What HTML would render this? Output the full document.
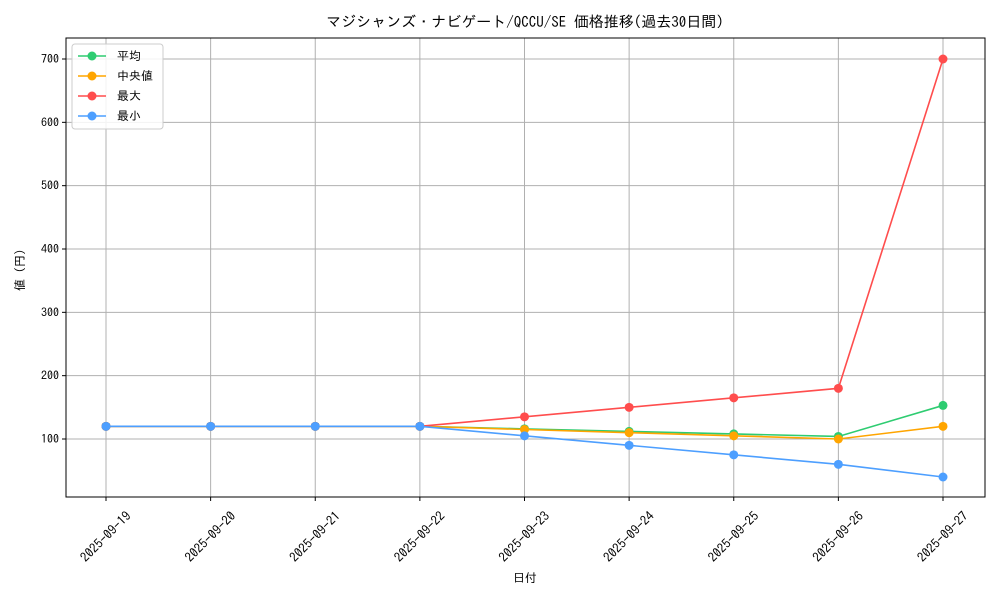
<!DOCTYPE html>
<html><head><meta charset="utf-8">
<style>
body{margin:0;background:#fff;}
svg text{font-family:"IPAGothic","Liberation Sans","Noto Sans CJK JP",sans-serif;fill:#000;}
</style></head>
<body>
<svg id="chart" width="1000" height="600">
<text x="525" y="27" font-size="15" text-anchor="middle">マジシャンズ・ナビゲート/QCCU/SE 価格推移(過去30日間)</text>
<g id="grid"></g>
<g id="axes"></g>
<g id="series"></g>
<rect x="66" y="38" width="919" height="459" fill="none" stroke="#000" stroke-width="1"/>
<text x="525" y="582" font-size="12" text-anchor="middle">日付</text>
<text transform="translate(24,270) rotate(-90)" font-size="12" text-anchor="middle">値 (円)</text>
<g id="legend"></g>
</svg>
<script>
const categories=["2025-09-19","2025-09-20","2025-09-21","2025-09-22","2025-09-23","2025-09-24","2025-09-25","2025-09-26","2025-09-27"];
const meanVals=[120,120,120,120,116,112,108,104,153];
const medianVals=[120,120,120,120,115,110,105,100,120];
const maxVals=[120,120,120,120,135,150,165,180,700];
const minVals=[120,120,120,120,105,90,75,60,40];
const yTicks=[100,200,300,400,500,600,700];
const seriesNames=["平均","中央値","最大","最小"];
const NS="http://www.w3.org/2000/svg";
const L=66,R=985,T=38,B=497;
function xs(i){return 106+i*(943-106)/(categories.length-1);}
function ys(v){return 439-(v-100)*(380/600);}
function mk(tag,attrs,parent){const e=document.createElementNS(NS,tag);for(const k in attrs)e.setAttribute(k,attrs[k]);parent.appendChild(e);return e;}
const grid=document.getElementById('grid'),axes=document.getElementById('axes'),ser=document.getElementById('series'),leg=document.getElementById('legend');
categories.forEach((c,i)=>{
  const x=xs(i);
  const g=mk('line',{x1:x,x2:x,y1:T,y2:B,stroke:'#b0b0b0','stroke-width':1},grid);
  
  
  mk('line',{x1:x,x2:x,y1:B,y2:B+4,stroke:'#000'},axes);
  const t=mk('text',{x:0,y:4,'font-size':13,'text-anchor':'middle',transform:`translate(${x},${B+40}) rotate(-45)`},axes);
  t.textContent=c;
  
  
});
yTicks.forEach(v=>{
  const y=ys(v);
  const g=mk('line',{x1:L,x2:R,y1:y,y2:y,stroke:'#b0b0b0','stroke-width':1},grid);
  
  
  mk('line',{x1:L-4,x2:L,y1:y,y2:y,stroke:'#000'},axes);
  const t=mk('text',{x:L-7,y:y+4,'font-size':12,'text-anchor':'end'},axes);
  t.textContent=v;
  
  
});
const allSeries=[meanVals,medianVals,maxVals,minVals];
const colors=["#2ecc71","#ffa500","#ff4d4d","#4d9fff"];
const keys=["mean","median","max","min"];
allSeries.forEach((vals,s)=>{
  const g=mk('g',{},ser);
  
  
  mk('polyline',{points:vals.map((v,i)=>xs(i)+','+ys(v)).join(' '),fill:'none',stroke:colors[s],'stroke-width':1.6},g);
  vals.forEach((v,i)=>{
    const c=mk('circle',{cx:xs(i),cy:ys(v),r:4.5,fill:colors[s]},g);
    
    
  });
});
const box=mk('rect',{x:72,y:44,width:91,height:85,rx:3,fill:'#fff','fill-opacity':0.85,stroke:'#ccc'},leg);


seriesNames.forEach((n,s)=>{
  const y=56+s*20;
  const g=mk('g',{},leg);
  
  
  mk('line',{x1:78,x2:106,y1:y,y2:y,stroke:colors[s],'stroke-width':1.6},g);
  mk('circle',{cx:92,cy:y,r:4.5,fill:colors[s]},g);
  const t=mk('text',{x:117,y:y+4,'font-size':12},g);
  t.textContent=n;
});
</script>
</body></html>
